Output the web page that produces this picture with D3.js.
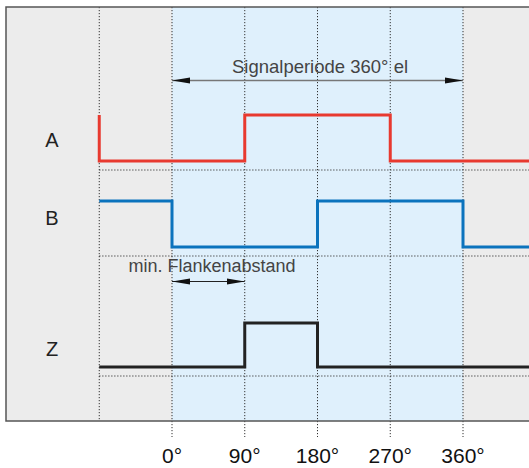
<!DOCTYPE html>
<html>
<head>
<meta charset="utf-8">
<script src="https://cdn.jsdelivr.net/npm/d3@7"></script>
<style>
  html, body { margin: 0; padding: 0; background: #fff; }
  svg { display: block; font-family: "Liberation Sans", Arial, sans-serif; }
</style>
</head>
<body>
<svg></svg>
<script>
// data
let tickDegrees = [0, 90, 180, 270, 360]
let tickLabels = ['0°', '90°', '180°', '270°', '360°']
let channels = ['A', 'B', 'Z']
// [degree, level] points, drawn as steps
let signalA = [[-90, 1], [-90, 0], [90, 1], [270, 0], [445, 0]]
let signalB = [[-90, 1], [0, 0], [180, 1], [360, 0], [445, 0]]
let signalZ = [[-90, 0], [90, 1], [180, 0], [445, 0]]
let signalColors = ['#e8392f', '#0b73bd', '#222222']
let periodLabel = 'Signalperiode 360° el'
let periodRange = [0, 360]
let edgeLabel = 'min. Flankenabstand'
let edgeRange = [0, 90]

let width = 529
let height = 468

let frameTop = 7
let frameBottom = 421
let frameLeft = 6

let svg = d3.select('svg')
    .attr('width', width)
    .attr('height', height)

let xScale = d3.scaleLinear()
    .domain([0, 360])
    .range([172, 463])

// low line of each channel row
let rowScale = d3.scaleOrdinal()
    .domain(channels)
    .range([161, 247, 367])

// baseline of each channel label
let labelScale = d3.scaleOrdinal()
    .domain(channels)
    .range([147, 225, 356])

let levelHeight = [46, 46, 44]

// background
svg.append('rect')
    .attr('x', frameLeft)
    .attr('y', frameTop)
    .attr('width', width)
    .attr('height', frameBottom - frameTop)
    .attr('fill', '#ececec')

svg.append('rect')
    .attr('x', xScale(periodRange[0]))
    .attr('y', frameTop)
    .attr('width', xScale(periodRange[1]) - xScale(periodRange[0]))
    .attr('height', frameBottom - frameTop)
    .attr('fill', '#dff0fc')

// dotted grid
let dots = '1.2,1.8'
svg.append('line')
    .attr('x1', xScale(-90)).attr('x2', xScale(-90))
    .attr('y1', frameTop).attr('y2', frameBottom)
    .attr('stroke', '#333').attr('stroke-width', 1)
    .attr('stroke-dasharray', dots)

svg.selectAll('.vgrid')
    .data(tickDegrees)
    .enter()
    .append('line')
    .attr('class', 'vgrid')
    .attr('x1', d => xScale(d)).attr('x2', d => xScale(d))
    .attr('y1', frameTop).attr('y2', 437)
    .attr('stroke', '#333').attr('stroke-width', 1)
    .attr('stroke-dasharray', dots)

svg.selectAll('.hgrid')
    .data(channels)
    .enter()
    .append('line')
    .attr('class', 'hgrid')
    .attr('x1', xScale(-90)).attr('x2', width)
    .attr('y1', d => rowScale(d) + 9).attr('y2', d => rowScale(d) + 9)
    .attr('stroke', '#333').attr('stroke-width', 1)
    .attr('stroke-dasharray', dots)

// frame (left, top, bottom)
svg.append('path')
    .attr('d', `M${width},${frameTop} H${frameLeft} V${frameBottom} H${width}`)
    .attr('fill', 'none')
    .attr('stroke', '#555')
    .attr('stroke-width', 1.5)

// signals
let signals = [signalA, signalB, signalZ]
signals.forEach((sig, i) => {
    let yLevel = d3.scaleLinear()
        .domain([0, 1])
        .range([rowScale(channels[i]), rowScale(channels[i]) - levelHeight[i]])
    let line = d3.line()
        .x(d => xScale(d[0]))
        .y(d => yLevel(d[1]))
        .curve(d3.curveStepAfter)
    svg.append('path')
        .datum(sig)
        .attr('d', line)
        .attr('fill', 'none')
        .attr('stroke', signalColors[i])
        .attr('stroke-width', 3)
        .attr('stroke-linejoin', 'miter')
        .attr('stroke-linecap', 'butt')
})

// channel labels
svg.selectAll('.chan')
    .data(channels)
    .enter()
    .append('text')
    .attr('class', 'chan')
    .attr('x', 52)
    .attr('y', d => labelScale(d))
    .attr('text-anchor', 'middle')
    .attr('font-size', 20)
    .attr('fill', '#222')
    .text(d => d)

// arrows
let defs = svg.append('defs')
defs.append('marker')
    .attr('id', 'head')
    .attr('viewBox', '0 0 18 8')
    .attr('refX', 18).attr('refY', 4)
    .attr('markerWidth', 18).attr('markerHeight', 8)
    .attr('markerUnits', 'userSpaceOnUse')
    .attr('orient', 'auto-start-reverse')
    .append('path')
    .attr('d', 'M0,1 L18,4 L0,7 Z')
    .attr('fill', '#111')

const drawArrow = (range, y, color, sw) => {
    svg.append('line')
        .attr('x1', xScale(range[0])).attr('x2', xScale(range[1]))
        .attr('y1', y).attr('y2', y)
        .attr('stroke', color)
        .attr('stroke-width', sw)
        .attr('marker-start', 'url(#head)')
        .attr('marker-end', 'url(#head)')
}

drawArrow(periodRange, 80.5, '#777', 1.6)
drawArrow(edgeRange, 281.5, '#222', 1)

svg.append('text')
    .attr('x', 320)
    .attr('y', 72.5)
    .attr('text-anchor', 'middle')
    .attr('font-size', 18.5)
    .attr('fill', '#444')
    .text(periodLabel)

svg.append('text')
    .attr('x', 212)
    .attr('y', 272)
    .attr('text-anchor', 'middle')
    .attr('font-size', 18)
    .attr('fill', '#444')
    .text(edgeLabel)

// tick labels
svg.selectAll('.tick-label')
    .data(tickDegrees)
    .enter()
    .append('text')
    .attr('class', 'tick-label')
    .attr('x', d => xScale(d))
    .attr('y', 463)
    .attr('text-anchor', 'middle')
    .attr('font-size', 21)
    .attr('fill', '#111')
    .text((d, i) => tickLabels[i])
</script>
</body>
</html>
